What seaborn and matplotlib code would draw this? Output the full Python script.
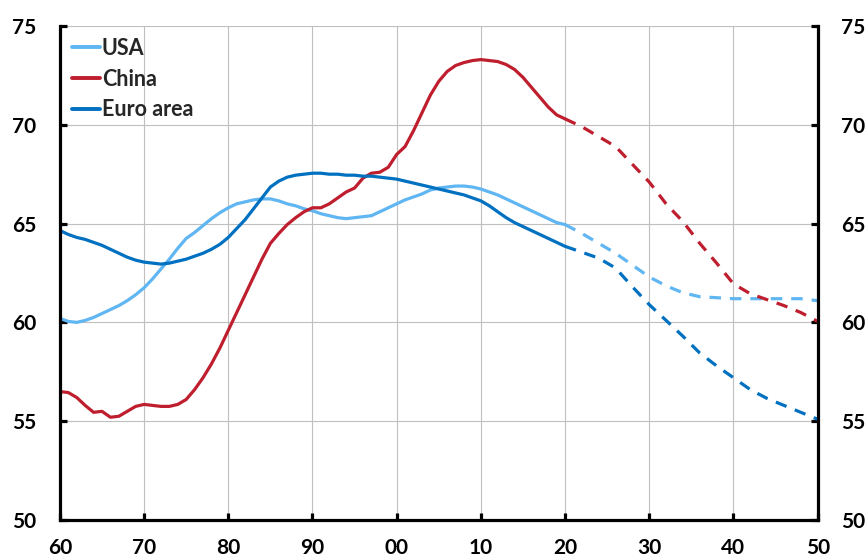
import numpy as np
import pandas as pd
import matplotlib
matplotlib.use("Agg")
import matplotlib.pyplot as plt
import seaborn as sns

# --- DATA ---
hist_years = list(range(1960, 2021))
usa_hist = [60.2, 60.05, 60.0, 60.1, 60.25, 60.45, 60.65, 60.85, 61.1, 61.4,
            61.75, 62.2, 62.7, 63.2, 63.75, 64.25, 64.55, 64.9, 65.25, 65.55,
            65.8, 66.0, 66.1, 66.2, 66.25, 66.25, 66.15, 66.0, 65.9, 65.75,
            65.65, 65.5, 65.4, 65.3, 65.25, 65.3, 65.35, 65.4, 65.6, 65.8,
            66.0, 66.2, 66.35, 66.5, 66.7, 66.8, 66.85, 66.9, 66.9, 66.85,
            66.75, 66.6, 66.45, 66.25, 66.05, 65.85, 65.65, 65.45, 65.25, 65.05,
            64.95]
china_hist = [56.5, 56.45, 56.2, 55.8, 55.45, 55.5, 55.2, 55.25, 55.5, 55.75,
              55.85, 55.8, 55.75, 55.75, 55.85, 56.1, 56.6, 57.2, 57.9, 58.7,
              59.6, 60.5, 61.4, 62.3, 63.2, 64.0, 64.5, 64.95, 65.3, 65.6,
              65.8, 65.8, 66.0, 66.3, 66.6, 66.8, 67.3, 67.55, 67.6, 67.85,
              68.5, 68.9, 69.7, 70.6, 71.5, 72.2, 72.7, 73.0, 73.15, 73.25,
              73.3, 73.25, 73.2, 73.05, 72.8, 72.4, 71.9, 71.4, 70.9, 70.5,
              70.3]
euro_hist = [64.65, 64.45, 64.3, 64.2, 64.05, 63.9, 63.7, 63.5, 63.3, 63.15,
             63.05, 63.0, 62.95, 63.0, 63.1, 63.2, 63.35, 63.5, 63.7, 63.95,
             64.3, 64.75, 65.2, 65.75, 66.3, 66.85, 67.15, 67.35, 67.45, 67.5,
             67.55, 67.55, 67.5, 67.5, 67.45, 67.45, 67.4, 67.4, 67.35, 67.3,
             67.25, 67.15, 67.05, 66.95, 66.85, 66.75, 66.65, 66.55, 66.45, 66.3,
             66.15, 65.9, 65.6, 65.3, 65.05, 64.85, 64.65, 64.45, 64.25, 64.05,
             63.85]

proj_years = list(range(2020, 2051, 2))
usa_proj = [64.95, 64.5, 64.0, 63.5, 62.9, 62.3, 61.85, 61.5, 61.3, 61.25,
            61.2, 61.2, 61.2, 61.2, 61.2, 61.1]
china_proj = [70.3, 69.9, 69.4, 68.9, 68.0, 67.1, 66.0, 65.1, 64.0, 63.0,
              61.95, 61.45, 61.15, 60.85, 60.5, 60.05]
euro_proj = [63.85, 63.55, 63.25, 62.75, 61.8, 60.9, 60.1, 59.3, 58.45, 57.8,
             57.2, 56.6, 56.15, 55.8, 55.45, 55.1]

series_names = ["USA", "China", "Euro area"]
colors = {"USA": "#5FB6F2", "China": "#BE1E2D", "Euro area": "#0070C0"}

hist = pd.DataFrame({"year": hist_years, "USA": usa_hist,
                     "China": china_hist, "Euro area": euro_hist})
proj = pd.DataFrame({"year": proj_years, "USA": usa_proj,
                     "China": china_proj, "Euro area": euro_proj})

# --- STYLE ---
sns.set_theme(style="whitegrid")
plt.rcParams['font.family'] = ['Lato', 'DejaVu Sans']
plt.rcParams['font.weight'] = 'bold'

fig = plt.figure(figsize=(8.68, 5.6), dpi=100)
ax = fig.add_axes([0.069, 0.0714, 0.873, 0.8822])

for name in series_names:
    sns.lineplot(data=hist, x="year", y=name, ax=ax, color=colors[name],
                 linewidth=2.3, label=name)
    sns.lineplot(data=proj, x="year", y=name, ax=ax, color=colors[name],
                 linewidth=2.3, linestyle=(0, (3.6, 2.8)))

ax.set_xlim(1960, 2050)
ax.set_ylim(50, 75)
ax.set_xticks(range(1960, 2051, 10))
ax.set_xticklabels([f"{y % 100:02d}" for y in range(1960, 2051, 10)])
ax.set_yticks(range(50, 76, 5))
ax.set_xlabel("")
ax.set_ylabel("")

ax.grid(True, color="#BFBFBF", linewidth=0.8)
for side in ["left", "right", "bottom"]:
    ax.spines[side].set_visible(True)
    ax.spines[side].set_color("black")
    ax.spines[side].set_linewidth(2.3)
ax.spines["top"].set_visible(False)

ax.tick_params(axis="both", which="major", direction="in", length=5,
               width=2.3, color="black", labelsize=15, labelcolor="black")
ax.tick_params(axis="y", left=True, right=True, labelleft=True,
               labelright=True, pad=17)
ax.tick_params(axis="x", bottom=True, pad=13)
for lab in ax.get_xticklabels() + ax.get_yticklabels():
    lab.set_fontweight("bold")

leg = ax.legend(loc="upper left", frameon=False, fontsize=15.5,
                handlelength=1.3, handletextpad=0.1, labelspacing=0.45,
                borderaxespad=0.3, borderpad=0.25)
for t in leg.get_texts():
    t.set_fontweight("bold")
for line in leg.get_lines():
    line.set_linewidth(2.8)

fig.savefig("out.png", dpi=100)
